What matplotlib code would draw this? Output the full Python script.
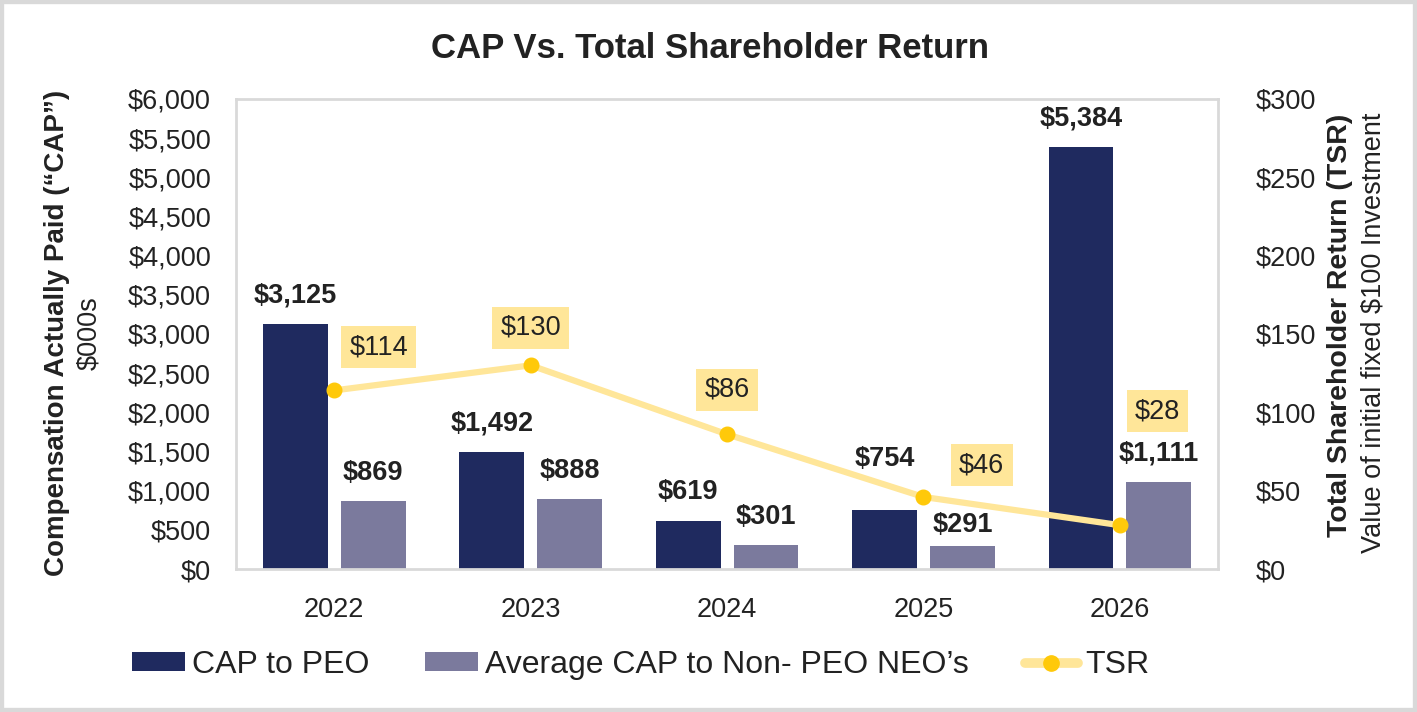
import matplotlib
matplotlib.use("Agg")
import matplotlib.pyplot as plt
from matplotlib.patches import Patch, Rectangle
from matplotlib.lines import Line2D
from matplotlib.ticker import FuncFormatter, MultipleLocator
import numpy as np

plt.rcParams['font.family'] = ['Liberation Sans', 'DejaVu Sans']

years = ["2022", "2023", "2024", "2025", "2026"]
cap_peo = [3125, 1492, 619, 754, 5384]
cap_neo = [869, 888, 301, 291, 1111]
tsr = [114, 130, 86, 46, 28]

# label offsets (points)
peo_offsets = [11, 11, 11, 27, 11]
neo_offsets = [11, 11, 11, 6, 11]
tsr_offsets = [(32, 31), (0, 27), (0, 32), (42, 23), (27, 82)]

c_peo = "#1F2A5F"
c_neo = "#7B7A9D"
c_line = "#FFE699"
c_marker = "#FFC90A"
c_border = "#D9D9D9"
c_text = "#222222"

fig = plt.figure(figsize=(14.17, 7.12), dpi=100)
fig.patches.append(Rectangle((0, 0), 1, 1, transform=fig.transFigure, fill=False,
                             edgecolor=c_border, linewidth=6, zorder=0))

ax = fig.add_axes([0.1666, 0.2008, 0.6930, 0.6602])
x = np.arange(len(years))
w = 0.33
off = 0.198
b1 = ax.bar(x - off, cap_peo, w, color=c_peo, zorder=2)
b2 = ax.bar(x + off, cap_neo, w, color=c_neo, zorder=2)
for bars, vals, offs in ((b1, cap_peo, peo_offsets), (b2, cap_neo, neo_offsets)):
    for r, v, o in zip(bars, vals, offs):
        ax.annotate(f"${v:,}", (r.get_x() + r.get_width() / 2, v), xytext=(0, o),
                    textcoords="offset points", ha="center", va="bottom",
                    fontsize=19.5, fontweight="bold", color=c_text)

ax.set_xlim(-0.5, 4.5)
ax.set_ylim(0, 6000)
ax.yaxis.set_major_locator(MultipleLocator(500))
ax.yaxis.set_major_formatter(FuncFormatter(lambda v, p: f"${v:,.0f}"))
ax.set_xticks(x)
ax.set_xticklabels(years)
ax.tick_params(axis="both", length=0, labelsize=19.5, colors=c_text)
ax.tick_params(axis="x", pad=20)
ax.tick_params(axis="y", pad=18)
for s in ax.spines.values():
    s.set_color(c_border)
    s.set_linewidth(2)

ax2 = ax.twinx()
ax2.set_ylim(0, 300)
ax2.yaxis.set_major_locator(MultipleLocator(50))
ax2.yaxis.set_major_formatter(FuncFormatter(lambda v, p: f"${v:,.0f}"))
ax2.tick_params(axis="y", length=0, labelsize=19.5, colors=c_text, pad=27)
for s in ax2.spines.values():
    s.set_visible(False)
ax2.plot(x, tsr, color=c_line, linewidth=4.5, marker="o", markersize=10.5,
         markerfacecolor=c_marker, markeredgecolor=c_marker, zorder=3)
for xi, v, o in zip(x, tsr, tsr_offsets):
    ax2.annotate(f"${v}", (xi, v), xytext=o, textcoords="offset points",
                 ha="center", va="center", fontsize=19.5, color=c_text,
                 bbox=dict(boxstyle="square,pad=0.3", facecolor=c_line, edgecolor="none"))

fig.text(0.501, 0.932, "CAP Vs. Total Shareholder Return", ha="center", va="center",
         fontsize=25, fontweight="bold", color=c_text)

fig.text(0.040, 0.532, "Compensation Actually Paid (“CAP”)", rotation=90, ha="center",
         va="center", fontsize=20, fontweight="bold", color=c_text)
fig.text(0.063, 0.532, "$000s", rotation=90, ha="center", va="center",
         fontsize=19.5, color=c_text)
fig.text(0.946, 0.543, "Total Shareholder Return (TSR)", rotation=90, ha="center",
         va="center", fontsize=20.5, fontweight="bold", color=c_text)
fig.text(0.969, 0.532, "Value of initial fixed $100 Investment", rotation=90, ha="center",
         va="center", fontsize=19.5, color=c_text)

handles = [Patch(facecolor=c_peo, edgecolor="none"),
           Patch(facecolor=c_neo, edgecolor="none"),
           Line2D([0], [0], color=c_line, linewidth=7, marker="o", markersize=11,
                  markerfacecolor=c_marker, markeredgecolor=c_marker,
                  solid_capstyle="round")]
labels = ["CAP to PEO", "Average CAP to Non- PEO NEO’s", "TSR"]
fig.legend(handles, labels, loc="center", bbox_to_anchor=(0.452, 0.066), ncol=3,
           frameon=False, fontsize=23, handlelength=1.66, handleheight=0.55,
           handletextpad=0.22, columnspacing=1.75, labelcolor=c_text)

fig.savefig("out.png", dpi=100)
